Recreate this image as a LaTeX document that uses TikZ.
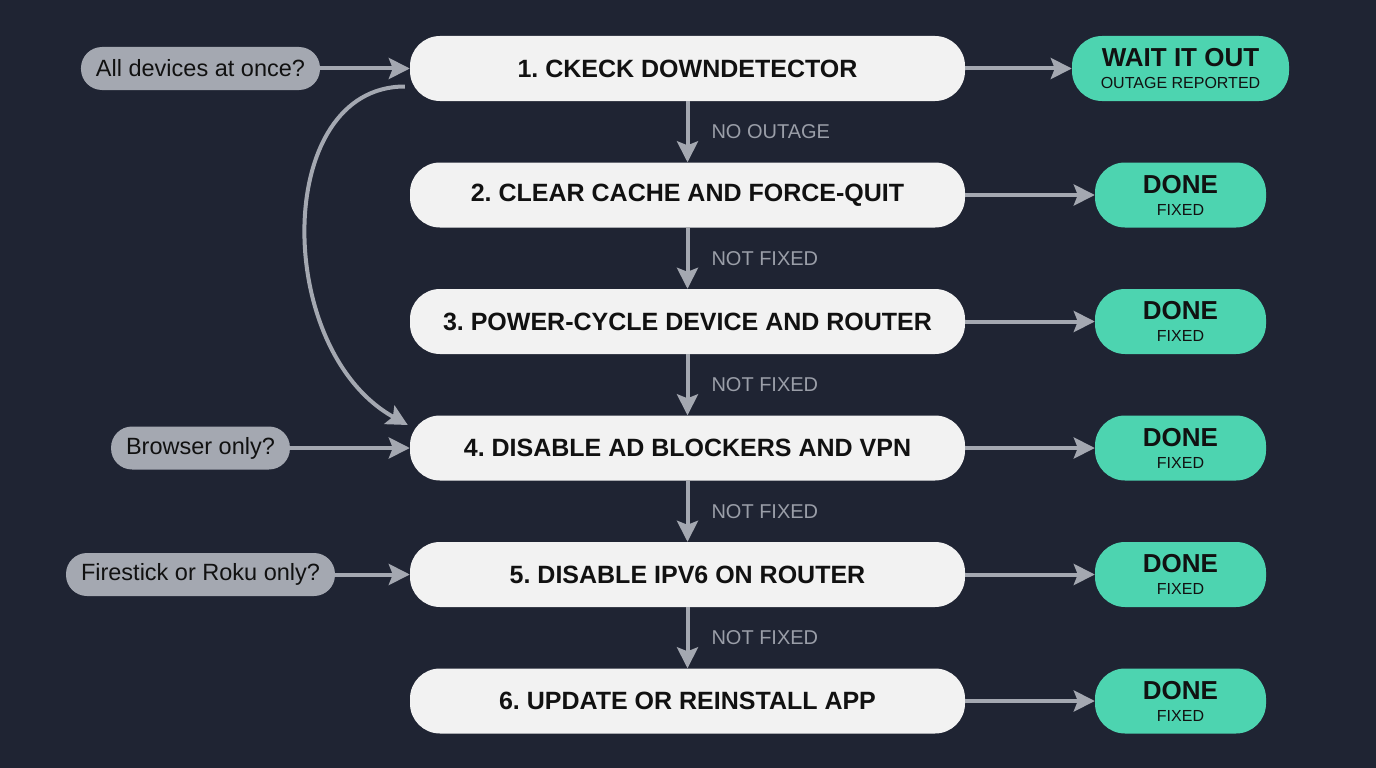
\documentclass[tikz,border=0pt]{standalone}
\usepackage{fontspec}
\setmainfont{Liberation Sans}
\usetikzlibrary{positioning,arrows.meta}
\definecolor{bgc}{HTML}{1F2433}
\definecolor{boxc}{HTML}{F2F2F2}
\definecolor{askc}{HTML}{A4A8B1}
\definecolor{donec}{HTML}{4DD4B0}
\definecolor{arrc}{HTML}{A4A8B1}
\definecolor{lblc}{HTML}{9A9EA8}
\definecolor{txtc}{HTML}{111111}
\frenchspacing
\tikzset{
  stepbox/.style={rectangle, rounded corners=30pt, fill=boxc, text=txtc, minimum width=555pt, minimum height=65pt, inner sep=0pt, font=\fontsize{25}{30}\selectfont\bfseries},
  donebox/.style={rectangle, rounded corners=30pt, fill=donec, text=txtc, minimum width=171pt, minimum height=65pt, inner sep=0pt, align=center, font=\fontsize{16}{22}\selectfont},
  waitbox/.style={donebox, minimum width=217pt},
  askbox/.style={rectangle, rounded corners=21pt, fill=askc, text=txtc, minimum height=43pt, inner xsep=15pt, inner ysep=0pt, font=\fontsize{23.5}{26}\selectfont},
  arr/.style={draw=arrc, line width=4pt, -{Stealth[length=21pt, width=21pt, inset=4pt]}},
  lbl/.style={text=lblc, font=\fontsize{20}{24}\selectfont, inner sep=0pt}
}
\begin{document}
\begin{tikzpicture}[x=1pt, y=-1pt, node distance=126.5pt, auto]
\fill[bgc] (0,0) rectangle (1376,768);

\node[stepbox] (S1) at (687.5,68.5) {1. CKECK DOWNDETECTOR};
\node[stepbox] (S2) [below of=S1] {2. CLEAR CACHE AND FORCE-QUIT};
\node[stepbox] (S3) [below of=S2] {3. POWER-CYCLE DEVICE AND ROUTER};
\node[stepbox] (S4) [below of=S3] {4. DISABLE AD BLOCKERS AND VPN};
\node[stepbox] (S5) [below of=S4] {5. DISABLE IPV6 ON ROUTER};
\node[stepbox] (S6) [below of=S5] {6. UPDATE OR REINSTALL APP};

\node[waitbox] (D1) [right of=S1, node distance=493pt] {{\fontsize{26}{26}\selectfont\bfseries WAIT IT OUT}\\OUTAGE REPORTED};
\node[donebox] (D2) [right of=S2, node distance=493pt] {{\fontsize{26}{26}\selectfont\bfseries DONE}\\FIXED};
\node[donebox] (D3) [right of=S3, node distance=493pt] {{\fontsize{26}{26}\selectfont\bfseries DONE}\\FIXED};
\node[donebox] (D4) [right of=S4, node distance=493pt] {{\fontsize{26}{26}\selectfont\bfseries DONE}\\FIXED};
\node[donebox] (D5) [right of=S5, node distance=493pt] {{\fontsize{26}{26}\selectfont\bfseries DONE}\\FIXED};
\node[donebox] (D6) [right of=S6, node distance=493pt] {{\fontsize{26}{26}\selectfont\bfseries DONE}\\FIXED};

\node[askbox] (Q1) [left of=S1, node distance=487pt] {All devices at once?};
\node[askbox] (Q4) [left of=S4, node distance=487pt] {Browser only?};
\node[askbox] (Q5) [left of=S5, node distance=487pt] {Firestick or Roku only?};

\draw[arr] (S1) -- node[lbl, right=22pt] {NO OUTAGE} (S2);
\draw[arr] (S2) -- node[lbl, right=22pt] {NOT FIXED} (S3);
\draw[arr] (S3) -- node[lbl, right=22pt] {NOT FIXED} (S4);
\draw[arr] (S4) -- node[lbl, right=22pt] {NOT FIXED} (S5);
\draw[arr] (S5) -- node[lbl, right=22pt] {NOT FIXED} (S6);

\draw[arr] (S1) -- (D1);
\draw[arr] (S2) -- (D2);
\draw[arr] (S3) -- (D3);
\draw[arr] (S4) -- (D4);
\draw[arr] (S5) -- (D5);
\draw[arr] (S6) -- (D6);

\draw[arr] (Q1) -- (S1);
\draw[arr] (Q4) -- (S4);
\draw[arr] (Q5) -- (S5);

\draw[arr] ([shift={(-5,18)}]S1.west) .. controls +(-132,0) and +(-135,-75) .. ([shift={(-2,-23)}]S4.west);
\end{tikzpicture}
\end{document}
